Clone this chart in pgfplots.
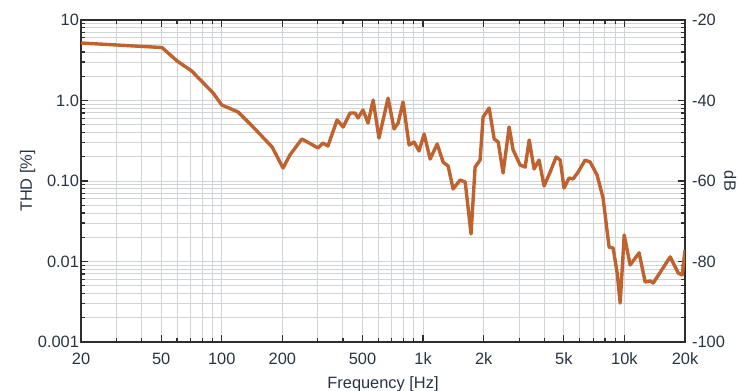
\documentclass[border=0pt]{standalone}
\usepackage{pgfplots}
\pgfplotsset{compat=1.18}
\usepackage{fontspec}
\setmainfont{Liberation Sans}
\definecolor{thd}{RGB}{192,98,46}
\definecolor{txt}{RGB}{40,52,66}
\definecolor{gridc}{RGB}{208,212,217}
\definecolor{frame}{RGB}{45,45,45}
\begin{document}
\begin{tikzpicture}[font=\fontsize{8.2}{9.8}\selectfont]
\begin{axis}[name=ax,
  scale only axis, width=302pt, height=161pt,
  xmode=log, ymode=log,
  xmin=20, xmax=20000, ymin=0.001, ymax=10,
  xtick={20,50,100,200,500,1000,2000,5000,10000,20000},
  xticklabels={20,50,100,200,500,1k,2k,5k,10k,20k},
  minor xtick={30,40,60,70,80,90,300,400,600,700,800,900,3000,4000,6000,7000,8000,9000},
  ytick={0.001,0.01,0.1,1,10},
  yticklabels={0.001,0.01,0.10,1.0,10},
  minor ytick={0.002,0.003,0.004,0.005,0.006,0.007,0.008,0.009,
    0.02,0.03,0.04,0.05,0.06,0.07,0.08,0.09,
    0.2,0.3,0.4,0.5,0.6,0.7,0.8,0.9,
    2,3,4,5,6,7,8,9},
  yticklabel pos=left,
  grid=both,
  major grid style={gridc, line width=0.5pt},
  minor grid style={gridc, line width=0.5pt},
  axis line style={frame, line width=0.9pt},
  tick style={frame, line width=0.6pt},
  major tick length=3.5pt, minor tick length=2pt,
  tick label style={txt},
  yticklabel style={xshift=2.5pt},
  xticklabel style={yshift=-2pt},
  label style={txt},
  xlabel={Frequency [Hz]},
  ylabel={THD [\%]},
  xlabel style={yshift=1pt},
  ylabel style={yshift=-5.5pt},
]
\addplot[thd, line width=1.7pt, line join=round] coordinates {
(20,5.18) (50.5,4.55) (60,3.1) (71,2.32) (90.6,1.24) (100,0.88) (120.6,0.72)
(143,0.47) (178,0.264) (201.6,0.145) (218,0.21) (250,0.333) (301,0.257)
(318,0.296) (337,0.272) (374,0.573) (401,0.469) (434,0.70) (459,0.70)
(475,0.607) (503,0.762) (533,0.525) (565,1.01) (604,0.342) (670,1.07)
(718,0.443) (752,0.525) (796,0.957) (852,0.280) (902,0.305) (955,0.236)
(1012,0.384) (1084,0.1875) (1175,0.288) (1257,0.172) (1332,0.153)
(1410,0.0796) (1528,0.1028) (1619,0.0972) (1731,0.022) (1813,0.149)
(1920,0.182) (1987,0.624) (2129,0.807) (2255,0.333) (2361,0.305)
(2497,0.1257) (2675,0.469) (2801,0.243) (3034,0.158) (3214,0.149)
(3366,0.323) (3559,0.141) (3769,0.182) (3991,0.0867) (4276,0.129)
(4582,0.199) (4798,0.182) (5013,0.0818) (5310,0.109) (5560,0.106)
(5888,0.129) (6381,0.182) (6758,0.172) (7313,0.119) (7834,0.0615)
(8393,0.0151) (8790,0.0147) (9204,0.0072) (9527,0.00305) (9976,0.0213)
(10676,0.00905) (11830,0.0128) (12680,0.00556) (13430,0.00573)
(13900,0.0054) (16880,0.0114) (18510,0.0072) (19380,0.0068) (20000,0.0139)
};
\end{axis}
\begin{axis}[
  scale only axis, width=302pt, height=161pt,
  xmode=log, xmin=20, xmax=20000,
  ymin=-100, ymax=-20,
  axis x line=none,
  axis y line*=right,
  axis line style={draw=none},
  ytick={-100,-80,-60,-40,-20},
  yticklabels={-100,-80,-60,-40,-20},
  major tick length=0pt,
  tick label style={txt},
  label style={txt},
  ylabel={dB},
  ylabel style={at={(axis description cs:1.075,0.5)}, anchor=center, rotate=180},
]
\addplot[draw=none] coordinates {(20,-100) (20000,-20)};
\end{axis}
\pgfresetboundingbox
\path (ax.south west) ++(-40.5pt,-24.5pt) rectangle ++(370pt,195.5pt);
\end{tikzpicture}
\end{document}
